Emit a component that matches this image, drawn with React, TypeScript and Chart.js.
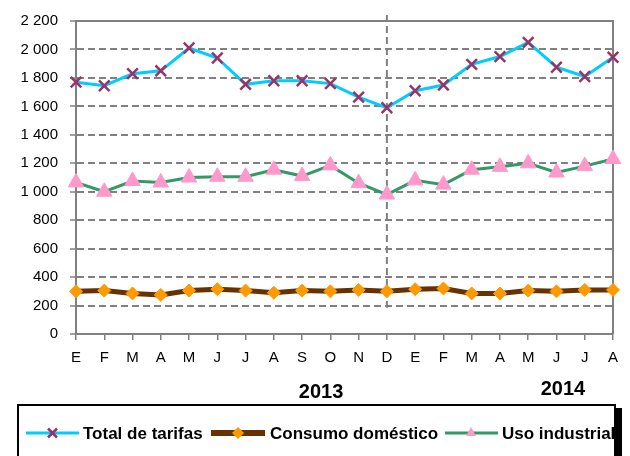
import { useEffect, useRef } from "react";
import { Chart, registerables } from "chart.js";

Chart.register(...registerables);

const months = ["E", "F", "M", "A", "M", "J", "J", "A", "S", "O", "N", "D", "E", "F", "M", "A", "M", "J", "J", "A"];
const totalTarifas = [1770, 1745, 1830, 1850, 2010, 1940, 1755, 1780, 1780, 1760, 1665, 1590, 1710, 1750, 1895, 1950, 2050, 1875, 1810, 1945];
const consumoDomestico = [300, 305, 285, 275, 305, 315, 305, 290, 305, 300, 310, 300, 315, 320, 285, 285, 305, 300, 310, 310];
const usoIndustrial = [1065, 1000, 1075, 1065, 1100, 1105, 1105, 1155, 1110, 1185, 1060, 980, 1080, 1050, 1155, 1175, 1200, 1135, 1180, 1230];
const seriesNames = ["Total de tarifas", "Consumo doméstico", "Uso industrial"];
const years = ["2013", "2014"];
const yearPositions = [8.67, 17.23];
const separatorIndex = 11;
const yMin = 0;
const yMax = 2200;
const yStep = 200;

const FONT = "'Liberation Sans', Arial, Helvetica, sans-serif";
const GRAY = "#808080";
const C_TOTAL = "#00CCFF";
const C_TOTAL_MK = "#993366";
const C_DOM = "#663300";
const C_DOM_MK = "#FF9900";
const C_IND = "#339966";
const C_IND_MK = "#FF99CC";

function fmt(v: number): string {
  if (v >= 1000) {
    const th = Math.floor(v / 1000);
    const rest = String(v % 1000).padStart(3, "0");
    return th + " " + rest;
  }
  return String(v);
}

const decorPlugin = {
  id: "decor",
  beforeDatasetsDraw(chart: any) {
    const { ctx, chartArea: a, scales } = chart;
    const x = scales.x;
    const y = scales.y;
    ctx.save();
    ctx.strokeStyle = GRAY;
    ctx.lineWidth = 2;
    ctx.beginPath();
    ctx.moveTo(a.left, a.top);
    ctx.lineTo(a.right, a.top);
    ctx.lineTo(a.right, a.bottom);
    ctx.stroke();
    const sx = x.getPixelForValue(separatorIndex);
    ctx.setLineDash([7, 4]);
    ctx.beginPath();
    ctx.moveTo(sx, a.top - 6);
    ctx.lineTo(sx, y.getPixelForValue(185));
    ctx.stroke();
    ctx.restore();
  },
  afterDraw(chart: any) {
    const { ctx, scales } = chart;
    const x = scales.x;
    ctx.save();
    // year labels
    ctx.fillStyle = "#000";
    ctx.font = `bold 20px ${FONT}`;
    ctx.textAlign = "center";
    ctx.textBaseline = "middle";
    ctx.fillText(years[0], x.getPixelForValue(yearPositions[0]), 392);
    ctx.fillText(years[1], x.getPixelForValue(yearPositions[1]), 389);

    // legend box
    ctx.strokeStyle = "#000";
    ctx.lineWidth = 2;
    ctx.strokeRect(18, 405, 597, 80);

    const ly = 433;
    ctx.textAlign = "left";
    ctx.font = `bold 17px ${FONT}`;
    // item 1
    ctx.strokeStyle = C_TOTAL;
    ctx.lineWidth = 3;
    ctx.beginPath();
    ctx.moveTo(26, ly);
    ctx.lineTo(79, ly);
    ctx.stroke();
    ctx.strokeStyle = C_TOTAL_MK;
    ctx.lineWidth = 2.5;
    ctx.beginPath();
    ctx.moveTo(48, ly - 4.5);
    ctx.lineTo(57, ly + 4.5);
    ctx.moveTo(57, ly - 4.5);
    ctx.lineTo(48, ly + 4.5);
    ctx.stroke();
    ctx.fillStyle = "#000";
    ctx.fillText(seriesNames[0], 83, ly + 1);

    // item 2
    ctx.strokeStyle = C_DOM;
    ctx.lineWidth = 6;
    ctx.beginPath();
    ctx.moveTo(211, ly);
    ctx.lineTo(265, ly);
    ctx.stroke();
    ctx.fillStyle = C_DOM_MK;
    ctx.beginPath();
    ctx.moveTo(238, ly - 6);
    ctx.lineTo(244, ly);
    ctx.lineTo(238, ly + 6);
    ctx.lineTo(232, ly);
    ctx.closePath();
    ctx.fill();
    ctx.fillStyle = "#000";
    ctx.fillText(seriesNames[1], 270, ly + 1);

    // item 3
    ctx.strokeStyle = C_IND;
    ctx.lineWidth = 3;
    ctx.beginPath();
    ctx.moveTo(445, ly);
    ctx.lineTo(498, ly);
    ctx.stroke();
    ctx.fillStyle = C_IND_MK;
    ctx.beginPath();
    ctx.moveTo(471, ly - 6);
    ctx.lineTo(476, ly + 3);
    ctx.lineTo(466, ly + 3);
    ctx.closePath();
    ctx.fill();
    ctx.fillStyle = "#000";
    ctx.fillText(seriesNames[2], 502, ly + 1);

    // shadow
    ctx.fillStyle = "#000";
    ctx.fillRect(614, 408, 8, 48);
    ctx.restore();
  },
};

export default function App() {
  const ref = useRef<HTMLCanvasElement | null>(null);
  useEffect(() => {
    if (!ref.current) return;
    const chart = new Chart(ref.current, {
      type: "line",
      data: {
        labels: months,
        datasets: [
          {
            label: seriesNames[2],
            data: usoIndustrial,
            borderColor: C_IND,
            borderWidth: 3,
            pointStyle: "triangle",
            pointRadius: 9,
            pointBackgroundColor: C_IND_MK,
            pointBorderColor: C_IND_MK,
            pointBorderWidth: 1,
            tension: 0,
          },
          {
            label: seriesNames[1],
            data: consumoDomestico,
            borderColor: C_DOM,
            borderWidth: 5,
            pointStyle: "rectRot",
            pointRadius: 6.5,
            pointBackgroundColor: C_DOM_MK,
            pointBorderColor: C_DOM_MK,
            pointBorderWidth: 1,
            tension: 0,
          },
          {
            label: seriesNames[0],
            data: totalTarifas,
            borderColor: C_TOTAL,
            borderWidth: 3,
            pointStyle: "crossRot",
            pointRadius: 7.5,
            pointBorderColor: C_TOTAL_MK,
            pointBackgroundColor: C_TOTAL_MK,
            pointBorderWidth: 2.5,
            tension: 0,
          },
        ],
      },
      options: {
        responsive: false,
        animation: false,
        devicePixelRatio: 1,
        layout: { padding: { left: 0, right: 17, top: 12, bottom: 82 } },
        plugins: {
          legend: { display: false },
          tooltip: { enabled: false },
        },
        scales: {
          x: {
            type: "category",
            offset: false,
            grid: {
              drawOnChartArea: false,
              drawTicks: true,
              tickLength: 6,
              color: GRAY,
              lineWidth: 1.5,
            },
            border: { color: GRAY, width: 2 },
            ticks: {
              autoSkip: false,
              maxRotation: 0,
              minRotation: 0,
              padding: 9,
              color: "#000",
              font: { family: FONT, size: 15 },
            },
            afterFit(scale: any) {
              scale.height = 40;
            },
          },
          y: {
            min: yMin,
            max: yMax,
            ticks: {
              stepSize: yStep,
              color: "#000",
              padding: 12,
              font: { family: FONT, size: 15 },
              callback: (v: any) => fmt(Number(v)),
            },
            grid: {
              color: GRAY,
              lineWidth: 2,
              tickLength: 6,
              tickColor: GRAY,
              tickWidth: 1.5,
            },
            border: { color: GRAY, width: 2, dash: [7, 4] },
            afterFit(scale: any) {
              scale.width = 76;
            },
          },
        },
      },
      plugins: [decorPlugin],
    });
    return () => chart.destroy();
  }, []);
  return (
    <div style={{ position: "absolute", left: 0, top: 0, width: 630, height: 456, background: "#fff" }}>
      <canvas ref={ref} width={630} height={456} style={{ width: 630, height: 456, display: "block" }} />
    </div>
  );
}
